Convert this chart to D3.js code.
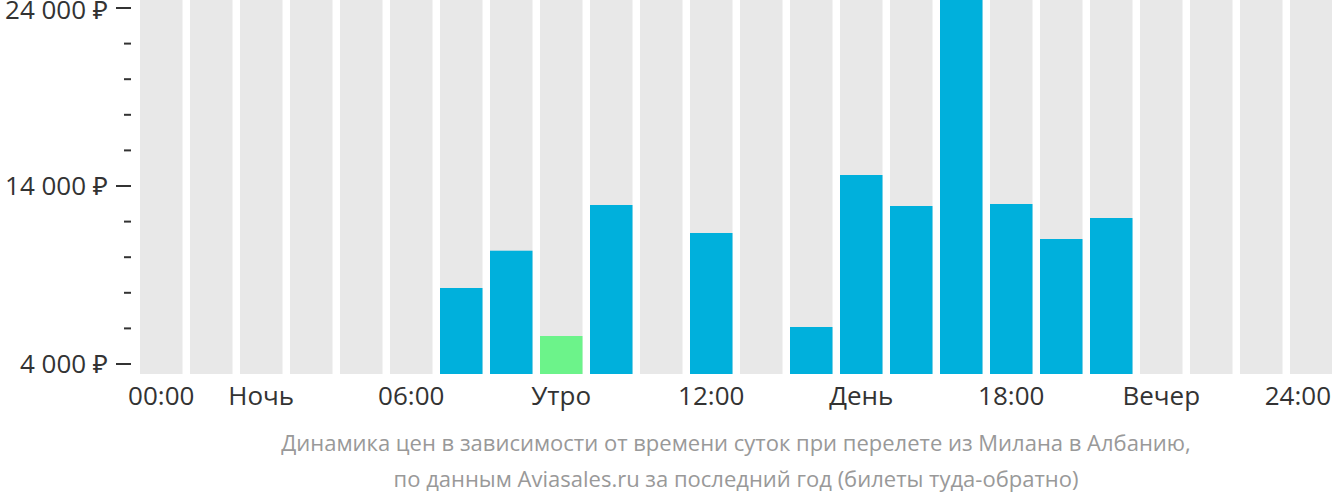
<!DOCTYPE html>
<html><head><meta charset="utf-8">
<script src="https://cdn.jsdelivr.net/npm/d3@7"></script>
<style>body{margin:0;background:#fff}svg{display:block}</style>
</head><body>
<svg id="c" width="1332" height="502"></svg>
<script>
const hours = d3.range(24);
const prices = [null,null,null,null,null,null,8270,10365,5573,12933,null,11360,null,6079,14618,12876,25000,12989,11022,12202,null,null,null,null];
const minIndex = 8;
const xLabels = [[0,"00:00"],[2,"Ночь"],[5,"06:00"],[8,"Утро"],[11,"12:00"],[14,"День"],[17,"18:00"],[20,"Вечер"],[23,"24:00"]];
const yMajor = [4000,14000,24000];
const yMinor = [6000,8000,10000,12000,16000,18000,20000,22000];
const caption = ["Динамика цен в зависимости от времени суток при перелете из Милана в Албанию,","по данным Aviasales.ru за последний год (билеты туда-обратно)"];

const W = 1332;
const svg = d3.select("#c");
const font = "'Open Sans','Noto Sans',sans-serif";
const x = d3.scaleBand().domain(hours).range([140,1332.5]).paddingInner(0.15).paddingOuter(0);
const y = d3.scaleLinear().domain([4000,24000]).range([364,8]);
const bottom = 374;

svg.append("g").selectAll("rect").data(hours).join("rect")
  .attr("x",d=>x(d)).attr("width",x.bandwidth()).attr("y",0).attr("height",bottom).attr("fill","#e8e8e8");

svg.append("g").selectAll("rect").data(hours.filter(h=>prices[h]!=null)).join("rect")
  .attr("x",d=>x(d)).attr("width",x.bandwidth())
  .attr("y",d=>Math.max(0,y(prices[d])))
  .attr("height",d=>bottom-Math.max(0,y(prices[d])))
  .attr("fill",d=>d===minIndex?"#6cf38a":"#00b0dc");

const ax = svg.append("g");
ax.selectAll("line.maj").data(yMajor).join("line").attr("class","maj")
  .attr("x1",116).attr("x2",131).attr("y1",d=>y(d)).attr("y2",d=>y(d))
  .attr("stroke","#333").attr("stroke-width",2);
ax.selectAll("line.min").data(yMinor).join("line").attr("class","min")
  .attr("x1",124).attr("x2",131).attr("y1",d=>y(d)).attr("y2",d=>y(d))
  .attr("stroke","#333").attr("stroke-width",2);
ax.selectAll("text").data(yMajor).join("text")
  .attr("x",108).attr("y",d=>Math.max(19,y(d)+9)).attr("text-anchor","end")
  .attr("font-family",font).attr("font-size",26).attr("fill","#333")
  .text(d=>d3.format(",")(d).replace(/,/g," ")+" ₽");

svg.append("g").selectAll("text").data(xLabels).join("text")
  .attr("x",d=>x(d[0])+x.bandwidth()/2).attr("y",405).attr("text-anchor","middle")
  .attr("font-family",font).attr("font-size",26).attr("fill","#333")
  .text(d=>d[1])
  .each(function(){
    const b=this.getBBox();
    if(b.x+b.width>W-1){ d3.select(this).attr("text-anchor","end").attr("x",W-1); }
  });

svg.append("g").selectAll("text").data(caption).join("text")
  .attr("x",736).attr("y",(d,i)=>451+i*36).attr("text-anchor","middle")
  .attr("font-family",font).attr("font-size",22).attr("fill","#999")
  .text(d=>d);
</script>
</body></html>
